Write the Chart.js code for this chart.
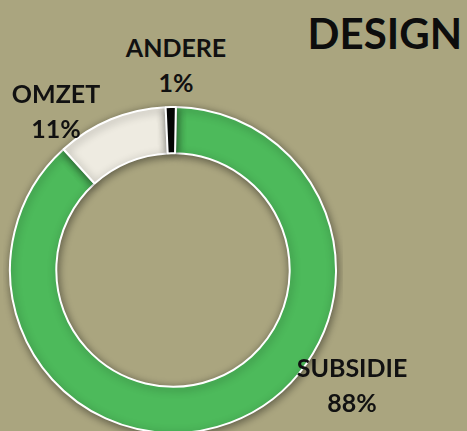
<!DOCTYPE html>
<html lang="nl">
<head>
  <meta charset="UTF-8" />
  <title>Design</title>
  <script src="https://cdn.jsdelivr.net/npm/chart.js"></script>
  <style>
    html, body {
      margin: 0;
      width: 467px;
      height: 431px;
      overflow: hidden;
      background-color: #aaa57f;
      font-family: Lato, "Open Sans", sans-serif;
    }
    .wrap {
      position: absolute;
      left: 3px;
      top: 100px;
      width: 340px;
      height: 340px;
    }
    .title {
      position: absolute;
      right: 5px;
      top: 8px;
      font-size: 42px;
      font-weight: bold;
      color: #0d0d0d;
    }
    .label {
      position: absolute;
      z-index: 2;
      font-size: 25px;
      font-weight: bold;
      color: #111;
      text-align: center;
      line-height: 35px;
      transform: translateX(-50%);
      white-space: nowrap;
    }
  </style>
</head>
<body>

  <div class="wrap"><canvas id="pieChart"></canvas></div>

  <div class="title">DESIGN</div>
  <div class="label" id="lbl0" style="left:352px; top:350px;"></div>
  <div class="label" id="lbl1" style="left:56px; top:76px;"></div>
  <div class="label" id="lbl2" style="left:176px; top:30px;"></div>

  <script>
    const categories = ['SUBSIDIE', 'OMZET', 'ANDERE'];
    const shares = [88, 11, 1];
    const colors = ['#4dba5b', '#eeebe1', '#050505'];

    categories.forEach((c, i) => {
      document.getElementById('lbl' + i).innerHTML = c + '<br>' + shares[i] + '%';
    });

    // zachte schaduw rond de ring
    const shadowPlugin = {
      id: 'ringShadow',
      beforeDatasetsDraw(chart) {
        const ctx = chart.ctx;
        ctx.save();
        ctx.shadowColor = 'rgba(0,0,0,0.45)';
        ctx.shadowBlur = 8;
        ctx.shadowOffsetX = 1;
        ctx.shadowOffsetY = 2;
      },
      afterDatasetsDraw(chart) {
        chart.ctx.restore();
      }
    };

    new Chart(document.getElementById('pieChart'), {
      type: 'doughnut',
      data: {
        labels: categories,
        datasets: [{
          data: shares,
          backgroundColor: colors,
          borderColor: '#ffffff',
          borderWidth: 2
        }]
      },
      options: {
        responsive: true,
        maintainAspectRatio: false,
        animation: false,
        rotation: 1,
        radius: 163,
        cutout: 121,
        events: [],
        plugins: {
          legend: { display: false },
          tooltip: { enabled: false }
        }
      },
      plugins: [shadowPlugin]
    });
  </script>

</body>
</html>
